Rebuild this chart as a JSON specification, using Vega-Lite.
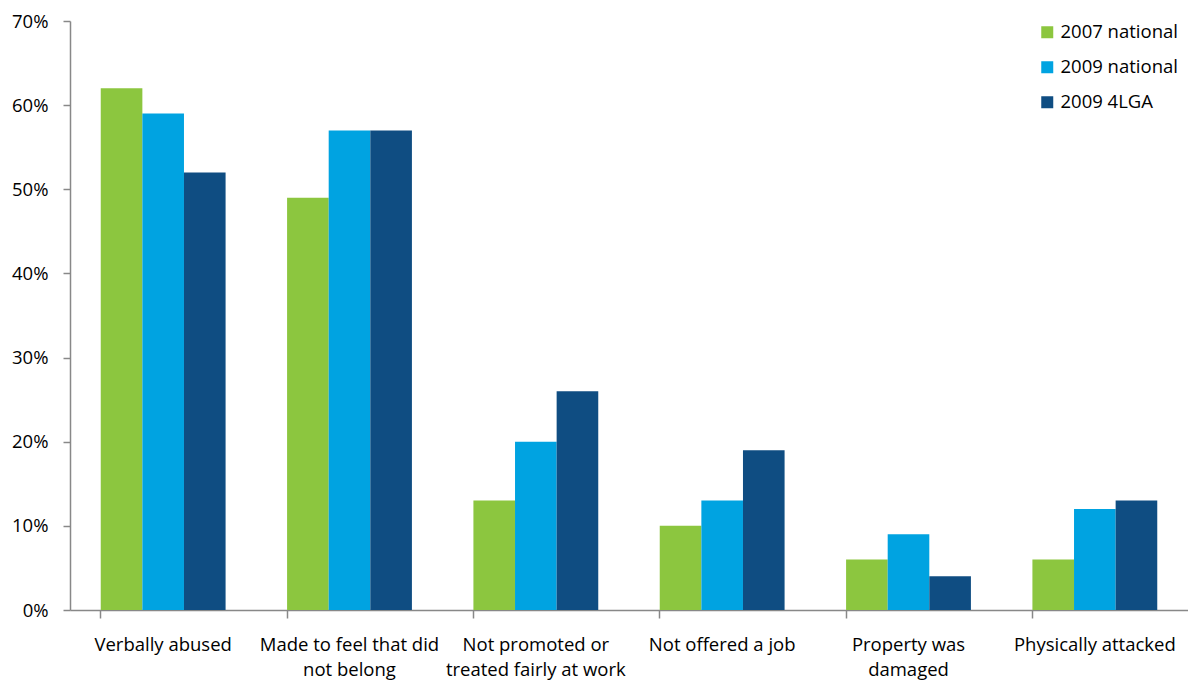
{
  "$schema": "https://vega.github.io/schema/vega-lite/v6.json",
  "autosize": {"type": "none"},
  "width": 1118,
  "height": 589,
  "padding": {"left": 70, "top": 21, "right": 0, "bottom": 71},
  "background": "white",
  "config": {
    "font": "Open Sans",
    "view": {"stroke": null}
  },
  "data": {
    "values": [
      {"category": "Verbally abused", "series": "2007 national", "value": 0.62},
      {"category": "Verbally abused", "series": "2009 national", "value": 0.59},
      {"category": "Verbally abused", "series": "2009 4LGA", "value": 0.52},
      {"category": "Made to feel that did not belong", "series": "2007 national", "value": 0.49},
      {"category": "Made to feel that did not belong", "series": "2009 national", "value": 0.57},
      {"category": "Made to feel that did not belong", "series": "2009 4LGA", "value": 0.57},
      {"category": "Not promoted or treated fairly at work", "series": "2007 national", "value": 0.13},
      {"category": "Not promoted or treated fairly at work", "series": "2009 national", "value": 0.20},
      {"category": "Not promoted or treated fairly at work", "series": "2009 4LGA", "value": 0.26},
      {"category": "Not offered a job", "series": "2007 national", "value": 0.10},
      {"category": "Not offered a job", "series": "2009 national", "value": 0.13},
      {"category": "Not offered a job", "series": "2009 4LGA", "value": 0.19},
      {"category": "Property was damaged", "series": "2007 national", "value": 0.06},
      {"category": "Property was damaged", "series": "2009 national", "value": 0.09},
      {"category": "Property was damaged", "series": "2009 4LGA", "value": 0.04},
      {"category": "Physically attacked", "series": "2007 national", "value": 0.06},
      {"category": "Physically attacked", "series": "2009 national", "value": 0.12},
      {"category": "Physically attacked", "series": "2009 4LGA", "value": 0.13}
    ]
  },
  "mark": {"type": "bar"},
  "encoding": {
    "x": {
      "field": "category",
      "type": "nominal",
      "sort": null,
      "scale": {"paddingInner": 0.33, "paddingOuter": 0.165},
      "axis": {
        "title": null,
        "labelAngle": 0,
        "bandPosition": 0,
        "domainColor": "#888888",
        "domainWidth": 1.5,
        "tickColor": "#888888",
        "tickWidth": 1.5,
        "tickSize": 8,
        "labelPadding": 17,
        "labelFontSize": 18.5,
        "labelColor": "#000000",
        "labelLineHeight": 25,
        "labelLimit": 300,
        "labelBaseline": "top",
        "labelExpr": "datum.value == 'Made to feel that did not belong' ? ['Made to feel that did', 'not belong'] : datum.value == 'Not promoted or treated fairly at work' ? ['Not promoted or', 'treated fairly at work'] : datum.value == 'Property was damaged' ? ['Property was', 'damaged'] : datum.value"
      }
    },
    "xOffset": {
      "field": "series",
      "type": "nominal",
      "sort": ["2007 national", "2009 national", "2009 4LGA"],
      "scale": {"paddingInner": 0, "paddingOuter": 0}
    },
    "y": {
      "field": "value",
      "type": "quantitative",
      "scale": {"domain": [0, 0.7], "nice": false},
      "axis": {
        "title": null,
        "format": ".0%",
        "values": [0, 0.1, 0.2, 0.3, 0.4, 0.5, 0.6, 0.7],
        "grid": false,
        "domainColor": "#888888",
        "domainWidth": 1.5,
        "tickColor": "#888888",
        "tickWidth": 1.5,
        "tickSize": 7,
        "labelPadding": 15,
        "labelFontSize": 18.5,
        "labelColor": "#000000"
      }
    },
    "color": {
      "field": "series",
      "type": "nominal",
      "sort": ["2007 national", "2009 national", "2009 4LGA"],
      "scale": {
        "domain": ["2007 national", "2009 national", "2009 4LGA"],
        "range": ["#8cc63f", "#00a3e1", "#0f4d82"]
      },
      "legend": {
        "title": null,
        "orient": "none",
        "legendX": 968,
        "legendY": 2,
        "symbolType": "square",
        "symbolSize": 144,
        "symbolStrokeWidth": 0,
        "labelFontSize": 18.5,
        "labelColor": "#000000",
        "labelOffset": 4,
        "rowPadding": 16
      }
    }
  }
}
